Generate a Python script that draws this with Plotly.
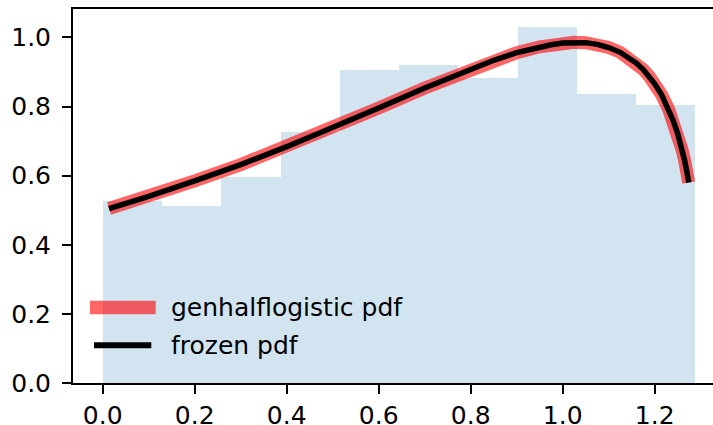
import plotly.graph_objects as go

# Histogram (density)
bin_edges = [0.0, 0.12885, 0.2577, 0.38655, 0.5154, 0.64425, 0.7731, 0.90195, 1.0308, 1.15965, 1.2885]
bin_heights = [0.527, 0.511, 0.596, 0.727, 0.905, 0.921, 0.883, 1.030, 0.836, 0.805]

# pdf curve
curve_x = [0.0137, 0.1, 0.2, 0.3, 0.4, 0.5, 0.6, 0.7, 0.8, 0.85, 0.9, 0.95, 0.975, 1.0, 1.025,
           1.05, 1.075, 1.1, 1.125, 1.15, 1.16, 1.175, 1.19, 1.2, 1.215, 1.23, 1.24, 1.25,
           1.255, 1.26, 1.265, 1.27, 1.274]
curve_y = [0.505, 0.540, 0.585, 0.632, 0.684, 0.739, 0.796, 0.854, 0.909, 0.934, 0.956, 0.973, 0.979,
           0.984, 0.986, 0.985, 0.980, 0.971, 0.957, 0.936, 0.926, 0.907, 0.884, 0.866, 0.834,
           0.793, 0.760, 0.721, 0.698, 0.673, 0.644, 0.611, 0.580]

legend_labels = ["genhalflogistic pdf", "frozen pdf"]

x_ticks = [0.0, 0.2, 0.4, 0.6, 0.8, 1.0, 1.2]
y_ticks = [0.0, 0.2, 0.4, 0.6, 0.8, 1.0]

centers = [(bin_edges[i] + bin_edges[i + 1]) / 2 for i in range(len(bin_heights))]
widths = [bin_edges[i + 1] - bin_edges[i] for i in range(len(bin_heights))]

FONT = "DejaVu Sans"
FS = 25
RED = "rgba(255,0,0,0.6)"

fig = go.Figure()
fig.add_trace(go.Bar(x=centers, y=bin_heights, width=widths,
                     marker=dict(color="rgba(31,119,180,0.2)", line=dict(width=0)),
                     showlegend=False, hoverinfo="skip"))
fig.add_trace(go.Scatter(x=curve_x, y=curve_y, mode="lines",
                         line=dict(color=RED, width=13), name=legend_labels[0], showlegend=False))
fig.add_trace(go.Scatter(x=curve_x, y=curve_y, mode="lines",
                         line=dict(color="black", width=5.5), name=legend_labels[1], showlegend=False))

L, T, B, W, H = 73, 9, 42, 713, 425
pw, ph = W - L, H - T - B

def px(x):
    return (x - L) / pw

def py(y):
    return (H - B - y) / ph

shapes = [
    dict(type="line", xref="paper", yref="paper", x0=px(90), x1=px(155.7), y0=py(307.5), y1=py(307.5),
         line=dict(color=RED, width=13.5)),
    dict(type="line", xref="paper", yref="paper", x0=px(94), x1=px(151.3), y0=py(345.3), y1=py(345.3),
         line=dict(color="black", width=6)),
]
annotations = [
    dict(text=legend_labels[0], xref="paper", yref="paper", x=px(169), y=py(307.5),
         xanchor="left", yanchor="middle", showarrow=False, font=dict(family=FONT, size=FS, color="black")),
    dict(text=legend_labels[1], xref="paper", yref="paper", x=px(169), y=py(345.3),
         xanchor="left", yanchor="middle", showarrow=False, font=dict(family=FONT, size=FS, color="black")),
]

fig.update_layout(
    width=W, height=H,
    margin=dict(l=L, r=0, t=T, b=B, pad=0, autoexpand=False),
    plot_bgcolor="white", paper_bgcolor="white",
    bargap=0,
    shapes=shapes, annotations=annotations,
    font=dict(family=FONT, size=FS, color="black"),
    xaxis=dict(range=[-0.0646, -0.0646 + pw / 460.0], tickvals=x_ticks,
               ticktext=[f"{v:.1f}" for v in x_ticks], automargin=False,
               showline=True, linecolor="black", linewidth=2, mirror=True,
               ticks="outside", ticklen=9, tickwidth=2, tickcolor="black",
               showgrid=False, zeroline=False),
    yaxis=dict(range=[0, 1.0824], tickvals=y_ticks,
               ticktext=[f"{v:.1f}" for v in y_ticks], automargin=False,
               showline=True, linecolor="black", linewidth=2, mirror=False,
               ticks="outside", ticklen=9, tickwidth=2, tickcolor="black",
               ticklabelstandoff=6,
               showgrid=False, zeroline=False),
)

fig.write_html("out.html", config={"displayModeBar": False},
               post_script="document.body.style.margin='0';document.body.style.overflow='hidden';")
